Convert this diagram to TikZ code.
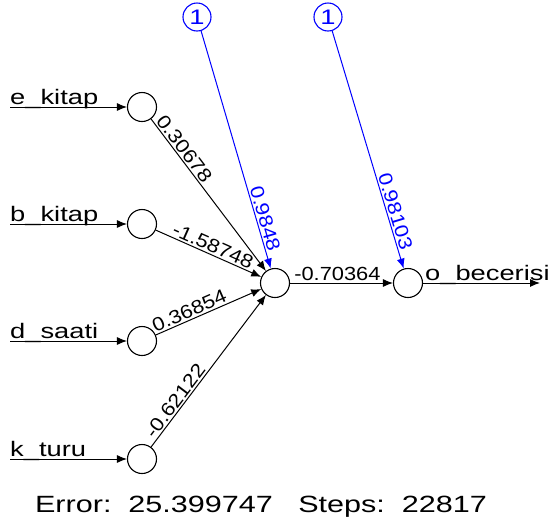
\documentclass[tikz,border=0pt]{standalone}
\usepackage{fontspec}
\setmainfont{Liberation Sans}
\usetikzlibrary{arrows.meta}
\newcommand{\breit}[1]{\scalebox{1.3}[1]{#1}}
\newcommand{\breitw}[1]{\scalebox{1.15}[1]{#1}}

\begin{document}
\begin{tikzpicture}[x=1pt, y=-1pt, % Pixelkoordinaten, y nach unten
    neuron/.style={draw, line width=1.1pt, circle, minimum size=29pt, inner sep=0pt},
    biasknoten/.style={draw=blue, text=blue, line width=1.1pt, circle, minimum size=28pt, inner sep=0pt, font=\fontsize{21}{21}\selectfont},
    pfeil/.style={-{Latex[length=10pt,width=8pt]}, line width=1pt},
    gewicht/.style={font=\fontsize{19}{19}\selectfont, sloped, above, inner sep=1.5pt},
    beschr/.style={font=\fontsize{21}{21}\selectfont, inner sep=0pt}]

    \useasboundingbox (0,0) rectangle (550,531);

    % Eingabeschicht
    \foreach \i/\name/\y in {1/e\_kitap/107, 2/b\_kitap/224, 3/d\_saati/341, 4/k\_turu/459} {
        \node[neuron] (in\i) at (142,\y) {};
        \coordinate (start\i) at (10,\y);
        \node[beschr, anchor=base west] (lab\i) at (10,\y-3) {\breit{\name}};
        \draw[pfeil] (start\i) -- (in\i);
    }

    % Versteckte Schicht und Ausgabe
    \node[neuron] (hid) at (275,283) {};
    \node[neuron] (out) at (408,283) {};
    \node[biasknoten] (bias1) at (197,17) {\breit{1}};
    \node[biasknoten] (bias2) at (328,17) {\breit{1}};

    % Gewichte zur versteckten Schicht
    \foreach \i/\w/\p in {1/0.30678/0.23, 2/-1.58748/0.51, 3/0.36854/0.35, 4/-0.62122/0.27} {
        \draw[pfeil] (in\i) -- node[gewicht, pos=\p] (w\i) {\breitw{\w}} (hid);
    }
    \draw[pfeil] (hid) -- node[gewicht, pos=0.46] (wout) {\breitw{-0.70364}} (out);

    % Bias (blau)
    \draw[pfeil, blue] (bias1) -- node[gewicht, text=blue, pos=0.80] (wb1) {\breitw{0.9848}} (hid);
    \draw[pfeil, blue] (bias2) -- node[gewicht, text=blue, pos=0.77] (wb2) {\breitw{0.98103}} (out);

    % Ausgabe
    \coordinate (ende) at (540,283);
    \draw[pfeil] (out) -- (ende);
    \node[beschr, anchor=base west] (outlab) at (425,280) {\breit{o\_becerisi}};

    % Fehler und Schritte
    \node[anchor=base, inner sep=0pt, font=\fontsize{23.5}{24}\selectfont] (fehler) at (261,512)
        {\breit{Error:\ \ 25.399747\ \ \ Steps:\ \ 22817}};

\end{tikzpicture}
\end{document}
